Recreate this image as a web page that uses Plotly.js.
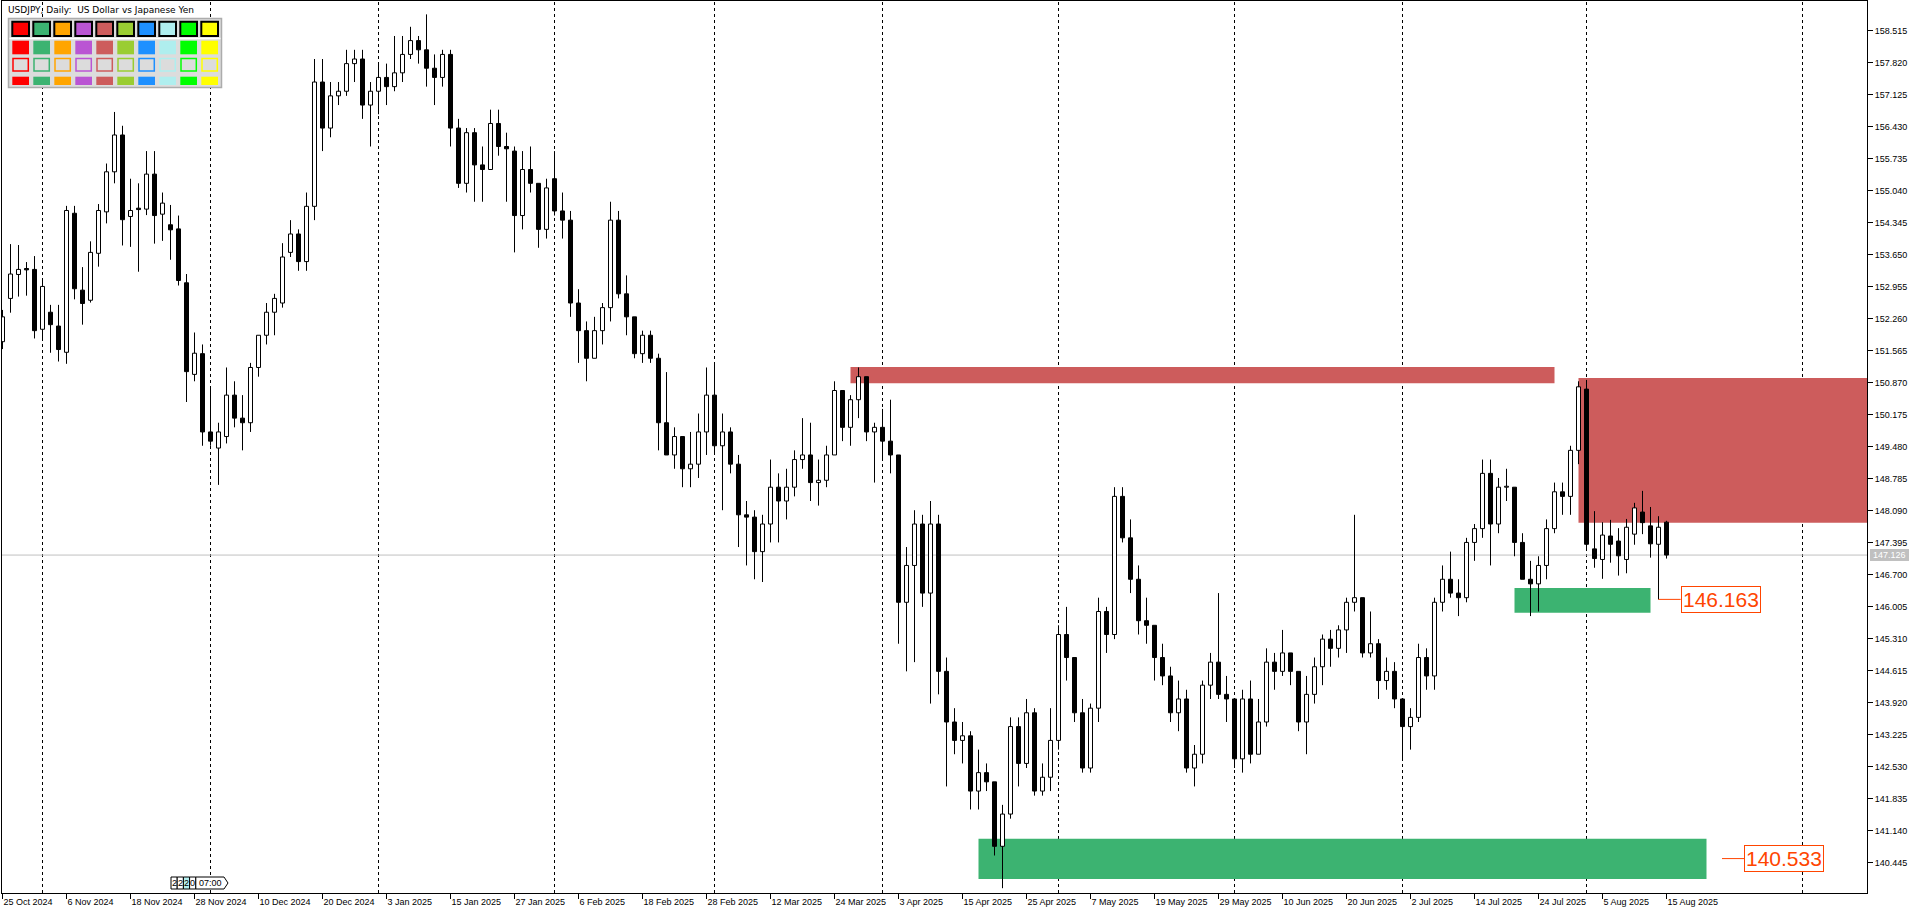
<!DOCTYPE html>
<html><head><meta charset="utf-8">
<script src="https://cdn.plot.ly/plotly-3.0.1.min.js"></script>
<style>html,body{margin:0;padding:0;background:#fff;overflow:hidden}#chart{width:1920px;height:915px}</style>
</head><body><div id="chart"></div>
<script>
// ---- data (bar index 0 = 25 Oct 2024, daily bars) ----
const opens = [151.76,152.70,153.22,153.35,153.33,152.03,152.40,152.10,151.53,154.55,152.88,152.66,153.68,154.58,155.45,156.25,154.48,154.66,154.64,155.40,154.53,154.30,154.21,153.04,151.05,151.50,149.80,149.45,149.70,150.60,150.10,150.00,151.20,151.90,152.40,152.60,153.70,154.10,153.50,154.70,157.40,156.40,157.10,157.20,157.80,157.90,156.90,157.20,157.50,157.30,157.60,158.00,158.30,158.10,157.70,157.50,158.00,156.40,155.20,156.30,155.60,155.50,156.50,156.00,155.90,154.50,155.50,155.20,154.20,155.30,154.60,154.40,152.60,152.00,151.40,152.00,152.50,154.40,152.80,152.30,151.50,151.90,151.40,150.00,149.30,149.70,149.00,149.10,149.80,150.60,149.50,149.80,149.10,148.00,147.95,147.20,147.80,148.60,148.30,148.60,149.20,149.30,148.70,148.75,149.30,150.70,149.90,150.50,151.00,149.80,149.90,149.60,149.30,146.10,146.90,147.80,146.30,147.80,144.60,143.50,143.10,143.20,142.00,142.40,142.20,140.80,141.50,143.40,142.60,143.70,142.00,142.30,143.10,145.40,144.90,143.70,142.50,143.80,145.90,145.40,148.40,147.50,146.60,145.70,145.60,144.90,144.50,143.70,144.00,142.50,142.80,144.30,144.80,144.10,144.00,142.70,144.00,142.80,143.50,144.80,144.60,145.00,144.60,143.50,144.10,144.70,145.30,145.10,145.50,146.10,146.20,145.00,145.20,144.40,144.60,144.00,143.40,143.60,144.90,144.50,146.10,146.60,146.30,146.20,147.40,147.70,148.90,147.80,148.60,148.60,147.40,146.60,146.50,146.90,147.70,148.50,148.40,149.40,150.73,147.26,147.03,147.54,147.43,147.03,147.58,148.06,147.76,147.36,147.84];
const highs = [152.45,153.88,153.86,153.49,153.62,153.14,152.56,152.56,154.71,154.71,153.38,153.94,154.75,155.63,156.75,156.45,155.30,155.20,155.90,155.90,155.00,154.73,154.50,153.23,151.96,151.70,150.75,150.00,151.20,150.90,150.60,151.30,151.90,152.60,152.80,153.90,154.40,154.20,155.00,157.90,157.90,157.40,157.40,158.10,158.10,158.10,157.40,157.80,157.80,158.40,158.40,158.60,158.40,158.87,158.00,158.10,158.10,156.60,156.40,156.40,156.00,156.80,156.80,156.30,156.00,155.90,156.00,155.20,155.30,155.90,155.00,154.60,152.90,152.20,152.30,152.60,154.80,154.60,153.20,152.30,152.00,152.00,151.50,151.10,149.90,149.70,149.80,150.20,151.20,151.30,150.20,149.90,149.30,148.30,148.10,148.00,149.20,148.90,149.00,149.40,150.10,150.00,149.20,149.50,150.90,150.70,150.60,151.20,151.00,150.00,150.30,150.50,149.30,147.30,148.10,148.00,148.30,148.00,144.90,143.80,143.50,143.30,142.90,142.60,142.20,141.70,143.60,143.60,144.00,143.80,142.60,143.80,145.60,146.00,144.90,144.00,143.90,146.20,146.00,148.60,148.60,147.90,146.90,146.20,145.60,145.20,144.70,144.40,144.20,143.00,144.40,145.00,146.30,144.50,144.00,144.20,144.40,144.00,145.10,145.00,145.50,145.00,144.60,144.50,144.90,145.40,145.50,145.60,146.20,148.00,146.20,145.90,145.30,144.90,144.80,144.00,143.80,145.20,145.10,146.20,146.90,147.20,146.60,147.50,147.80,149.20,149.20,148.80,149.00,148.60,147.60,147.00,147.10,147.90,148.70,148.70,149.50,150.90,150.93,148.08,147.84,147.89,147.71,147.91,148.26,148.52,148.17,147.97,147.87];
const lows = [151.60,152.39,152.74,152.76,151.83,151.78,151.52,151.33,151.28,152.68,152.13,152.61,153.39,154.33,155.20,153.85,153.82,153.28,154.51,153.89,153.95,153.54,152.98,150.45,150.90,149.50,149.50,148.65,149.55,149.90,149.40,149.80,151.00,151.70,151.90,152.50,153.60,153.30,153.30,154.40,155.90,156.20,156.90,157.10,157.40,156.60,156.00,156.70,156.90,157.20,157.40,157.90,157.80,157.30,156.90,157.30,156.00,155.10,155.00,154.80,154.80,155.50,155.80,154.80,153.70,154.20,155.00,153.80,154.00,154.50,154.00,152.30,151.30,150.90,151.40,151.70,152.20,152.70,151.90,151.40,151.30,151.30,149.40,149.30,149.00,148.60,148.60,148.80,149.30,149.30,148.10,148.90,147.30,146.90,146.60,146.54,147.40,147.40,147.90,148.40,149.00,148.30,148.20,148.60,149.30,149.60,149.50,150.10,149.60,148.70,149.20,148.90,145.20,144.60,144.80,146.00,143.90,144.10,142.10,142.80,142.60,141.60,141.60,142.00,140.60,139.89,141.40,142.10,142.50,141.90,141.90,142.00,142.90,144.40,143.50,142.40,142.40,143.50,145.00,145.30,147.40,146.30,145.40,145.20,144.40,144.30,143.50,143.30,142.40,142.10,142.60,144.00,144.00,143.50,142.50,142.40,142.60,142.80,143.40,144.20,144.50,144.30,143.30,142.80,143.90,144.30,144.70,144.90,145.00,145.90,144.90,144.90,144.00,144.20,143.80,142.70,142.90,143.50,144.20,144.20,145.90,146.20,145.80,146.10,147.00,147.50,146.90,147.60,148.30,147.10,146.60,145.80,145.90,146.60,147.60,148.00,148.00,149.10,147.24,146.85,146.61,146.96,146.68,146.73,147.35,147.58,147.07,146.16,147.05];
const closes = [152.30,153.23,153.33,153.32,152.00,152.96,152.13,151.59,154.61,152.91,152.59,153.70,154.61,155.45,156.25,154.41,154.61,154.63,155.40,154.50,154.77,154.19,153.09,151.11,151.51,149.80,149.60,149.80,150.60,150.10,150.00,151.20,151.90,152.40,152.70,153.60,154.10,153.50,154.70,157.40,156.40,157.10,157.20,157.80,157.90,156.90,157.20,157.50,157.30,157.60,158.00,158.30,158.10,157.70,157.50,158.00,156.40,155.20,156.30,155.60,155.50,156.50,156.00,155.95,154.50,155.50,155.20,154.20,155.10,154.60,154.40,152.60,152.00,151.40,152.00,152.50,154.40,152.80,152.30,151.50,151.90,151.40,150.00,149.30,149.70,149.00,149.10,149.80,150.60,149.50,149.80,149.10,148.00,147.95,147.20,147.80,148.60,148.30,148.60,149.20,149.30,148.70,148.75,149.30,150.70,149.90,150.50,151.00,149.80,149.90,149.60,149.30,146.10,146.90,147.80,146.30,147.80,144.60,143.50,143.10,143.20,142.00,142.40,142.20,140.80,141.50,143.40,142.60,143.70,142.00,142.30,143.10,145.40,144.90,143.70,142.50,143.80,145.90,145.40,148.40,147.50,146.60,145.70,145.60,144.90,144.50,143.70,144.00,142.50,142.80,144.30,144.80,144.10,144.00,142.70,144.00,142.80,143.50,144.80,144.60,145.00,144.60,143.50,144.10,144.70,145.30,145.10,145.50,146.10,146.20,145.00,145.20,144.40,144.60,144.00,143.40,143.60,144.90,144.50,146.10,146.60,146.30,146.20,147.40,147.70,148.90,147.80,148.60,148.62,147.40,146.60,146.50,146.90,147.70,148.50,148.40,149.40,150.78,147.36,147.05,147.56,147.36,147.11,147.73,148.15,147.83,147.37,147.73,147.126];

const dateTickIndex = [0,8,16,24,32,40,48,56,64,72,80,88,96,104,112,120,128,136,144,152,160,168,176,184,192,200,208];
const dateTickLabels = ['25 Oct 2024','6 Nov 2024','18 Nov 2024','28 Nov 2024','10 Dec 2024','20 Dec 2024','3 Jan 2025','15 Jan 2025','27 Jan 2025','6 Feb 2025','18 Feb 2025','28 Feb 2025','12 Mar 2025','24 Mar 2025','3 Apr 2025','15 Apr 2025','25 Apr 2025','7 May 2025','19 May 2025','29 May 2025','10 Jun 2025','20 Jun 2025','2 Jul 2025','14 Jul 2025','24 Jul 2025','5 Aug 2025','15 Aug 2025'];
const monthSeparatorIndex = [5,26,47,69,89,110,132,154,175,198,225];
const priceTickLabels = ['140.445','141.140','141.835','142.530','143.225','143.920','144.615','145.310','146.005','146.700','147.395','148.090','148.785','149.480','150.175','150.870','151.565','152.260','152.955','153.650','154.345','155.040','155.735','156.430','157.125','157.820','158.515'];
const currentPrice = 147.126;

// zones: [from bar, to bar, low, high]
const supplyZoneFrom = [106, 197];
const supplyZoneTo = [194, 240];
const supplyZoneLow = [150.86, 147.83];
const supplyZoneHigh = [151.21, 150.97];
const demandZoneFrom = [189, 122];
const demandZoneTo = [206, 213];
const demandZoneLow = [145.874, 140.09];
const demandZoneHigh = [146.41, 140.963];
const levelLabels = ['146.163', '140.533'];
const levelValues = [146.163, 140.533];

const paletteColors = ['#FF0000','#3CB371','#FFA500','#BA55D3','#CD5C5C','#9ACD32','#1E90FF','#AFEEEE','#00FF00','#FFFF00'];

// ---- geometry ----
const W = 1920, H = 915, ML = 2, MR = 53, MT = 1, MB = 22;
const PW = W - ML - MR, PH = H - MT - MB;
const X0 = -0.0625, X1 = X0 + PW / 8;
const Y1 = 158.515 + 29.7 / 46.04, Y0 = Y1 - PH / 46.04;
const px = x => (x - ML) / PW;
const py = y => 1 - (y - MT) / PH;

const n = opens.length;
const idx = opens.map((_, i) => i);
const bodyLow = opens.map((o, i) => Math.min(o, closes[i]));
const bodyHigh = opens.map((o, i) => Math.max(o, closes[i]));
const bodySize = bodyHigh.map((h, i) => Math.max(h - bodyLow[i], 0.02));
const bodyColor = opens.map((o, i) => closes[i] >= o ? '#FFFFFF' : '#000000');

const wx = [], wy = [];
for (let i = 0; i < n; i++) {
  wx.push(i, i, null, i, i, null);
  wy.push(bodyHigh[i], highs[i], null, bodyLow[i], lows[i], null);
}

const traces = [
  {type: 'bar', x: idx, y: bodySize, base: bodyLow, width: 0.5,
   marker: {color: bodyColor, line: {color: '#000', width: 1}}, hoverinfo: 'skip'},
  {type: 'scatter', mode: 'lines', x: wx, y: wy, line: {color: '#000', width: 1}, hoverinfo: 'skip'}
];

const shapes = [];
for (let k = 0; k < supplyZoneFrom.length; k++) {
  shapes.push({type: 'rect', layer: 'below', xref: 'x', yref: 'y', x0: supplyZoneFrom[k], x1: supplyZoneTo[k],
    y0: supplyZoneLow[k], y1: supplyZoneHigh[k], fillcolor: '#CD5C5C', line: {width: 0}});
}
for (let k = 0; k < demandZoneFrom.length; k++) {
  shapes.push({type: 'rect', layer: 'below', xref: 'x', yref: 'y', x0: demandZoneFrom[k], x1: demandZoneTo[k],
    y0: demandZoneLow[k], y1: demandZoneHigh[k], fillcolor: '#3CB371', line: {width: 0}});
}
monthSeparatorIndex.forEach(m => shapes.push({type: 'line', layer: 'below', xref: 'x', yref: 'paper',
  x0: m, x1: m, y0: 0, y1: 1, line: {color: '#000', width: 1, dash: '3px,3px'}}));
shapes.push({type: 'line', layer: 'below', xref: 'paper', yref: 'y', x0: 0, x1: 1, y0: currentPrice, y1: currentPrice,
  line: {color: '#C0C0C0', width: 1}});
shapes.push({type: 'line', xref: 'x', yref: 'y', x0: 207, x1: (1680.7 - 2.5) / 8, y0: levelValues[0], y1: levelValues[0],
  line: {color: '#FF4500', width: 1}});
shapes.push({type: 'line', xref: 'paper', yref: 'y', x0: px(1722), x1: px(1744), y0: levelValues[1], y1: levelValues[1],
  line: {color: '#FF4500', width: 1}});
shapes.push({type: 'rect', xref: 'paper', yref: 'paper', x0: px(1870), x1: px(1909), y0: py(561), y1: py(549),
  fillcolor: '#C0C0C0', line: {width: 0}});

// palette panel
shapes.push({type: 'rect', xref: 'paper', yref: 'paper', x0: px(8.5), x1: px(221.5), y0: py(87.5), y1: py(18.5),
  fillcolor: '#DCDCDC', line: {color: '#ACACAC', width: 1.5}});
shapes.push({type: 'line', xref: 'paper', yref: 'paper', x0: px(9.5), x1: px(220.5), y0: py(38.6), y1: py(38.6),
  line: {color: '#FFFFFF', width: 1.5}});
paletteColors.forEach((c, k) => {
  const a = 12.3 + 21 * k, b = a + 16.7;
  shapes.push({type: 'rect', xref: 'paper', yref: 'paper', x0: px(a + 1), x1: px(b + 1), y0: py(37), y1: py(22.7),
    fillcolor: '#8C8C8C', line: {width: 0}});
  shapes.push({type: 'rect', xref: 'paper', yref: 'paper', x0: px(a), x1: px(b), y0: py(36), y1: py(21.7),
    fillcolor: c, line: {color: '#000', width: 2}});
  shapes.push({type: 'rect', xref: 'paper', yref: 'paper', x0: px(a), x1: px(b), y0: py(54.3), y1: py(40.7),
    fillcolor: c, line: {width: 0}});
  shapes.push({type: 'rect', xref: 'paper', yref: 'paper', x0: px(a + 0.7), x1: px(b - 0.7), y0: py(71), y1: py(58.4),
    fillcolor: '#DCDCDC', line: {color: c, width: 1.5}});
  shapes.push({type: 'rect', xref: 'paper', yref: 'paper', x0: px(a), x1: px(b), y0: py(85), y1: py(76.7),
    fillcolor: c, line: {width: 0}});
});

const widgetCells = ['2', '2', '2', '0'];
const annotations = [];
widgetCells.forEach((t, k) => {
  const a = 171 + 6.2 * k;
  shapes.push({type: 'rect', xref: 'paper', yref: 'paper', x0: px(a), x1: px(a + 6.2), y0: py(889), y1: py(877),
    fillcolor: k === 2 ? '#B4F0F0' : '#FFFFFF', line: {color: '#000', width: 1}});
  annotations.push({xref: 'paper', yref: 'paper', x: px(a + 3.1), y: py(883), text: t, showarrow: false,
    font: {family: 'Liberation Sans, Arial', size: 9, color: '#000'}, xanchor: 'center', yanchor: 'middle'});
});
shapes.push({type: 'path', xref: 'paper', yref: 'paper',
  path: `M ${px(195.8)} ${py(877)} L ${px(224)} ${py(877)} L ${px(228)} ${py(883)} L ${px(224)} ${py(889)} L ${px(195.8)} ${py(889)} Z`,
  fillcolor: '#FFFFFF', line: {color: '#000', width: 1}});
annotations.push({xref: 'paper', yref: 'paper', x: px(210.5), y: py(883), text: '07:00', showarrow: false,
  font: {family: 'Liberation Sans, Arial', size: 9, color: '#000'}, xanchor: 'center', yanchor: 'middle'});

annotations.push({xref: 'paper', yref: 'paper', x: px(6), y: py(10), xanchor: 'left', yanchor: 'middle',
  text: 'USDJPY,\u00a0Daily:\u00a0\u00a0US\u00a0Dollar\u00a0vs\u00a0Japanese\u00a0Yen', showarrow: false,
  font: {family: 'DejaVu Sans, Verdana', size: 9, color: '#000'}});
annotations.push({xref: 'paper', yref: 'paper', x: px(1889.5), y: py(555), xanchor: 'center', yanchor: 'middle',
  text: currentPrice.toFixed(3), showarrow: false, font: {family: 'Liberation Sans, Arial', size: 9, color: '#FFFFFF'}});
annotations.push({xref: 'paper', yref: 'y', x: px(1680.7), y: levelValues[0], xanchor: 'left', yanchor: 'middle',
  text: levelLabels[0], showarrow: false, bordercolor: '#FF4500', borderwidth: 1, borderpad: 1, bgcolor: '#FFFFFF',
  font: {family: 'Liberation Sans, Arial', size: 21, color: '#FF4500'}});
annotations.push({xref: 'paper', yref: 'y', x: px(1744), y: levelValues[1], xanchor: 'left', yanchor: 'middle',
  text: levelLabels[1], showarrow: false, bordercolor: '#FF4500', borderwidth: 1, borderpad: 1, bgcolor: '#FFFFFF',
  font: {family: 'Liberation Sans, Arial', size: 21, color: '#FF4500'}});

const layout = {
  width: W, height: H, margin: {l: ML, r: MR, t: MT, b: MB}, showlegend: false,
  paper_bgcolor: '#FFFFFF', plot_bgcolor: '#FFFFFF', bargap: 0,
  xaxis: {range: [X0, X1], showgrid: false, zeroline: false, showline: true, mirror: true, linecolor: '#000', linewidth: 1,
    tickmode: 'array', tickvals: dateTickIndex, ticktext: dateTickLabels, ticks: 'outside', ticklen: 5, tickcolor: '#000',
    ticklabelposition: 'outside right', tickfont: {family: 'Liberation Sans, Arial', size: 9, color: '#000'}, fixedrange: true},
  yaxis: {range: [Y0, Y1], side: 'right', showgrid: false, zeroline: false, showline: true, mirror: true, linecolor: '#000', linewidth: 1,
    tickmode: 'array', tickvals: priceTickLabels.map(Number), ticktext: priceTickLabels, ticks: 'outside', ticklen: 5, tickcolor: '#000',
    tickfont: {family: 'Liberation Sans, Arial', size: 9, color: '#000'}, fixedrange: true},
  shapes: shapes, annotations: annotations
};
Plotly.newPlot('chart', traces, layout, {displayModeBar: false, staticPlot: true});
</script></body></html>
